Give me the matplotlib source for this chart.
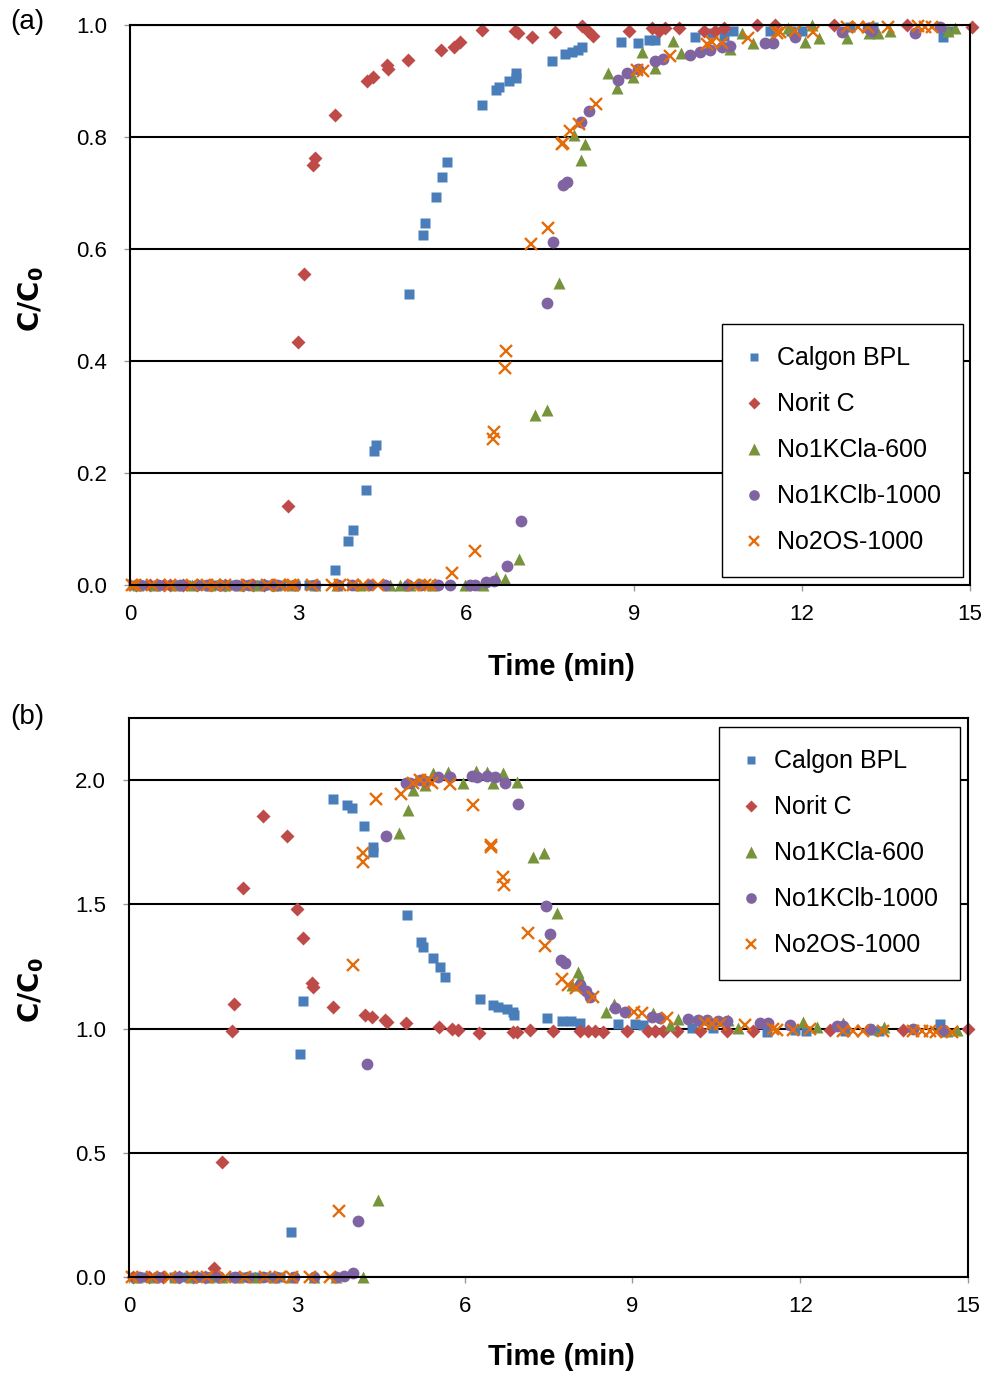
import matplotlib
matplotlib.use("Agg")
import matplotlib.pyplot as plt

plt.rcParams['font.family'] = ['Liberation Sans', 'DejaVu Sans']

labels = ["Calgon BPL", "Norit C", "No1KCla-600", "No1KClb-1000", "No2OS-1000"]
colors = ["#4A7EBB", "#BE4B48", "#77933C", "#8064A2", "#E46C0A"]

# ---- (a) breakthrough curves ----
calgon_a_t = [0.05, 0.25, 0.5, 0.75, 1.0, 1.3, 1.55, 1.8, 2.05, 2.3, 2.45, 2.7, 2.95, 3.2, 3.3,
              3.66, 3.89, 3.98, 4.21, 4.36, 4.39, 4.98, 5.23, 5.27, 5.46, 5.57, 5.66,
              6.29, 6.53, 6.59, 6.77, 6.89, 6.9, 7.53, 7.77, 7.9, 8.0, 8.08,
              8.77, 9.07, 9.27, 9.38, 10.09, 10.4, 10.6, 10.77, 11.43, 11.8, 12.0,
              12.86, 13.27, 14.52, 14.6]
calgon_a_c = [0] * 15 + [0.027, 0.079, 0.098, 0.17, 0.239, 0.25, 0.519, 0.625, 0.646, 0.693, 0.729, 0.756,
              0.857, 0.884, 0.889, 0.90, 0.905, 0.915, 0.936, 0.948, 0.952, 0.955, 0.96,
              0.97, 0.968, 0.973, 0.973, 0.978, 0.985, 0.98, 0.99, 0.99, 0.99, 0.99,
              0.997, 0.997, 0.979, 0.99]

norit_a_t = [0.1, 0.35, 0.6, 0.71, 0.95, 1.2, 1.45, 1.7, 2.02, 2.2, 2.4, 2.56,
             2.82, 3.0, 3.11, 3.27, 3.3, 3.66, 4.23, 4.34, 4.59, 4.61, 4.96,
             5.55, 5.79, 5.89, 6.29, 6.88, 6.93, 7.18, 7.59, 8.07, 8.17, 8.27, 8.91,
             9.32, 9.45, 9.55, 9.8, 10.25, 10.45, 10.6, 11.2, 11.52, 12.57, 13.87, 15.04]
norit_a_c = [0] * 12 + [0.141, 0.434, 0.555, 0.75, 0.762, 0.839, 0.90, 0.907, 0.928, 0.921, 0.938,
             0.955, 0.96, 0.97, 0.991, 0.99, 0.985, 0.979, 0.988, 0.998, 0.99, 0.98, 0.99,
             0.995, 0.99, 0.995, 0.995, 0.99, 0.99, 0.995, 1.0, 1.0, 1.0, 1.0, 0.996]

kcla_a_t = [0.15, 0.45, 0.83, 1.1, 1.43, 1.67, 1.95, 2.26, 2.6, 2.9, 3.3, 3.7, 4.1, 4.64, 4.82,
            5.0, 5.4, 5.98, 6.3,
            6.53, 6.7, 6.95, 7.23, 7.45, 7.66, 7.92, 8.05, 8.12, 8.53, 8.69, 8.99, 9.14, 9.38,
            9.69, 9.84, 10.71, 10.93, 11.13, 11.75, 12.05, 12.18, 12.3, 12.8, 13.2, 13.36,
            13.57, 14.6, 14.73]
kcla_a_c = [0] * 19 + [0.014, 0.011, 0.046, 0.304, 0.313, 0.539, 0.804, 0.759, 0.787, 0.915, 0.887,
            0.907, 0.952, 0.923, 0.972, 0.95, 0.957, 0.985, 0.968, 0.994, 0.97, 1.0, 0.977,
            0.977, 0.985, 0.985, 0.99, 0.99, 0.995]

kclb_a_t = [0.17, 0.5, 0.9, 1.2, 1.38, 1.61, 1.9, 2.12, 2.4, 2.62, 2.95, 3.3, 3.72, 3.96, 4.26,
            4.55, 4.97, 5.2, 5.5, 5.71, 6.07, 6.16,
            6.35, 6.5, 6.73, 6.98, 7.45, 7.55, 7.73, 7.8, 8.05, 8.2, 8.71, 8.87, 9.07, 9.38,
            9.52, 10.0, 10.18, 10.36, 10.57, 10.71, 11.34, 11.48, 11.88, 12.71, 13.18, 13.25,
            14.02, 14.46]
kclb_a_c = [0] * 22 + [0.005, 0.008, 0.034, 0.114, 0.503, 0.612, 0.714, 0.72, 0.827, 0.847, 0.902,
            0.915, 0.921, 0.936, 0.939, 0.946, 0.952, 0.955, 0.96, 0.962, 0.968, 0.968, 0.979,
            0.988, 0.995, 0.99, 0.985, 0.997]

os_a_t = [0.03, 0.09, 0.39, 0.71, 1.1, 1.38, 1.52, 1.7, 2.09, 2.45, 2.68, 2.86, 2.91, 3.25, 3.61,
          3.75, 3.98, 4.16, 4.43, 5.05, 5.27, 5.36,
          5.75, 6.16, 6.48, 6.5, 6.7, 6.71, 7.16, 7.47, 7.72, 7.74, 7.86, 8.02, 8.32, 9.05, 9.16,
          9.64, 10.3, 10.4, 10.57, 11.04, 11.55, 11.6, 11.88, 12.2, 12.8, 13.0, 13.18, 13.54,
          14.07, 14.2, 14.32]
os_a_c = [0] * 22 + [0.021, 0.061, 0.26, 0.273, 0.387, 0.418, 0.609, 0.637, 0.787, 0.79, 0.81, 0.823,
          0.859, 0.92, 0.918, 0.945, 0.966, 0.97, 0.968, 0.977, 0.985, 0.988, 0.99, 0.988,
          0.996, 0.997, 0.996, 0.996, 0.998, 0.996, 0.997]

# ---- (b) CO2 roll-up curves ----
calgon_b_t = [0.1, 0.3, 0.55, 0.8, 1.05, 1.3, 1.55, 1.86, 2.05, 2.29, 2.5, 2.7,
              2.9, 3.06, 3.11, 3.65, 3.9, 3.99, 4.2, 4.36, 4.37, 4.97, 5.22, 5.26, 5.44, 5.56,
              5.65, 6.28, 6.51, 6.6, 6.76, 6.86, 6.88, 7.47, 7.74, 7.9, 8.07, 8.75, 9.05, 9.19,
              10.07, 10.44, 11.4, 11.9, 12.1, 12.8, 13.4, 14.5]
calgon_b_c = [0] * 12 + [0.181, 0.897, 1.11, 1.924, 1.90, 1.887, 1.815, 1.73, 1.71, 1.457, 1.348,
              1.328, 1.284, 1.248, 1.207, 1.119, 1.095, 1.087, 1.08, 1.065, 1.054, 1.042, 1.032,
              1.03, 1.022, 1.018, 1.02, 1.014, 1.002, 1.002, 0.986, 0.994, 0.99, 0.99, 0.992, 1.02]

norit_b_t = [0.08, 0.35, 0.6, 0.9, 1.15, 1.35,
             1.52, 1.66, 1.84, 1.88, 2.04, 2.4, 2.82, 3.0, 3.11, 3.27, 3.29, 3.65, 4.22, 4.34,
             4.58, 4.61, 4.95, 5.54, 5.77, 5.88, 6.26, 6.87, 6.93, 7.17, 7.58, 8.06, 8.2, 8.33,
             8.48, 8.9, 9.28, 9.4, 9.55, 9.8, 10.2, 10.69, 11.16, 12.53, 13.84, 15.0]
norit_b_c = [0] * 6 + [0.036, 0.463, 0.99, 1.099, 1.565, 1.855, 1.775, 1.481, 1.364, 1.183, 1.167,
             1.087, 1.054, 1.046, 1.034, 1.026, 1.022, 1.006, 1.0, 0.994, 0.982, 0.986, 0.988,
             0.994, 0.99, 0.99, 0.992, 0.99, 0.985, 0.99, 0.99, 0.99, 0.99, 0.99, 0.99, 0.99,
             0.99, 0.995, 0.993, 1.0]

kcla_b_t = [0.15, 0.45, 0.83, 1.1, 1.43, 1.67, 1.95, 2.26, 2.6, 2.9, 3.3, 3.7, 4.18,
            4.45, 4.83, 4.99, 5.08, 5.29, 5.44, 5.7, 5.97, 6.2, 6.4, 6.51, 6.69, 6.93, 7.22,
            7.42, 7.65, 7.92, 8.03, 8.06, 8.53, 8.67, 9.37, 9.67, 9.82, 10.71, 10.89, 12.05,
            12.3, 12.77, 13.3, 13.5, 14.62, 14.8]
kcla_b_c = [0] * 13 + [0.31, 1.787, 1.879, 1.96, 1.98, 2.028, 2.032, 1.988, 2.035, 2.032, 1.988,
            2.028, 1.992, 1.69, 1.706, 1.465, 1.175, 1.227, 1.203, 1.066, 1.099, 1.062, 1.014,
            1.038, 1.034, 1.002, 1.026, 1.006, 1.022, 1.0, 1.006, 0.99, 0.994]

kclb_b_t = [0.17, 0.5, 0.9, 1.2, 1.38, 1.61, 1.9, 2.12, 2.4, 2.62, 2.95, 3.3, 3.7,
            3.85, 4.0, 4.09, 4.26, 4.6, 4.95, 5.02, 5.2, 5.29, 5.53, 5.74, 6.13, 6.22, 6.4,
            6.54, 6.72, 6.96, 7.46, 7.53, 7.72, 7.8, 8.06, 8.17, 8.24, 8.69, 8.87, 9.35, 9.49,
            10.0, 10.18, 10.33, 10.53, 10.69, 11.28, 11.43, 11.82, 12.66, 12.77, 13.25, 14.02,
            14.55]
kclb_b_c = [0] * 13 + [0.005, 0.016, 0.225, 0.857, 1.775, 1.988, 1.99, 2.0, 1.995, 2.012, 2.012,
            2.015, 2.012, 2.015, 2.012, 1.99, 1.903, 1.493, 1.38, 1.275, 1.263, 1.175, 1.15,
            1.127, 1.082, 1.066, 1.046, 1.042, 1.04, 1.036, 1.034, 1.03, 1.03, 1.022, 1.022,
            1.014, 1.01, 1.01, 1.0, 1.0, 0.994]

os_b_t = [0.05, 0.41, 0.73, 1.12, 1.39, 1.72, 2.07, 2.43, 2.7, 2.91, 3.24, 3.6,
          3.75, 4.0, 4.18, 4.19, 4.42, 4.86, 5.08, 5.2, 5.35, 5.42, 5.74, 6.15, 6.47, 6.48,
          6.69, 6.7, 7.13, 7.43, 7.74, 7.85, 8.0, 8.3, 9.02, 9.17, 9.62, 10.3, 10.42, 10.57,
          11.01, 11.51, 11.58, 11.87, 12.18, 12.77, 12.95, 13.12, 13.48, 14.02, 14.17, 14.32,
          14.43, 14.71]
os_b_c = [0] * 12 + [0.265, 1.256, 1.706, 1.67, 1.924, 1.944, 1.99, 2.0, 2.0, 1.99, 1.984, 1.9,
          1.738, 1.73, 1.61, 1.577, 1.384, 1.332, 1.2, 1.175, 1.163, 1.127, 1.066, 1.062,
          1.042, 1.022, 1.02, 1.018, 1.014, 1.0, 0.994, 0.994, 1.0, 0.99, 0.99, 0.99, 0.99,
          0.99, 0.99, 0.99, 0.988, 0.986]

# marker shape / size per series
styles = [dict(marker='s', ms=7), dict(marker='D', ms=7), dict(marker='^', ms=9),
          dict(marker='o', ms=8.5), dict(marker='x', ms=8, mew=1.7)]


def draw_panel(ax, series, ylim, yticks, legend_loc, legend_anchor):
    for (t, c), lab, col, st in zip(series, labels, colors, styles):
        if st['marker'] == 'x':
            ax.plot(t, c, ls='none', color=col, label=lab, clip_on=False, **st)
        else:
            ax.plot(t, c, ls='none', color=col, mec='none', label=lab, clip_on=False, **st)

    ax.set_xlim(0, 15)
    ax.set_ylim(*ylim)
    ax.set_xticks([0, 3, 6, 9, 12, 15])
    ax.set_yticks(yticks)
    ax.set_yticklabels(['%.1f' % v for v in yticks])
    ax.yaxis.grid(True, color='black', lw=1.5)
    ax.set_axisbelow(True)
    for sp in ax.spines.values():
        sp.set_color('black')
        sp.set_linewidth(1.5)
    ax.tick_params(axis='both', direction='out', length=4.5, width=1, color='#999999',
                   labelsize=16)
    ax.tick_params(axis='x', pad=9)
    ax.tick_params(axis='y', pad=12)

    leg = ax.legend(loc=legend_loc, bbox_to_anchor=legend_anchor, fontsize=18,
                    frameon=True, fancybox=False, edgecolor='black', borderpad=0.9,
                    labelspacing=0.88, handletextpad=0.5, handlelength=0.8, markerscale=0.9,
                    borderaxespad=0)
    leg.get_frame().set_linewidth(1.0)
    leg.get_frame().set_alpha(1)


fig = plt.figure(figsize=(9.9, 13.8), dpi=100)
ax_a = fig.add_axes([130 / 990, 1 - 585 / 1380, 840 / 990, 560 / 1380])
ax_b = fig.add_axes([129 / 990, 1 - 1277 / 1380, 839 / 990, 559 / 1380])

draw_panel(ax_a,
           [(calgon_a_t, calgon_a_c), (norit_a_t, norit_a_c), (kcla_a_t, kcla_a_c),
            (kclb_a_t, kclb_a_c), (os_a_t, os_a_c)],
           (0, 1.0), [0.0, 0.2, 0.4, 0.6, 0.8, 1.0], 'lower right', (0.9917, 0.0143))

draw_panel(ax_b,
           [(calgon_b_t, calgon_b_c), (norit_b_t, norit_b_c), (kcla_b_t, kcla_b_c),
            (kclb_b_t, kclb_b_c), (os_b_t, os_b_c)],
           (0, 2.25), [0.0, 0.5, 1.0, 1.5, 2.0], 'upper right', (0.9905, 0.984))

for ax, xl, yl in [(ax_a, (0.514, -0.146), (-0.118, 0.511)),
                   (ax_b, (0.515, -0.143), (-0.117, 0.513))]:
    ax.set_xlabel('Time (min)', fontsize=21, fontweight='bold', va='center')
    ax.xaxis.set_label_coords(*xl)
    ax.set_ylabel(r'$\mathbf{C/C_0}$', fontsize=20, va='center')
    ax.yaxis.set_label_coords(*yl)

fig.text(27 / 990, 1 - 22 / 1380, '(a)', fontsize=20, ha='center', va='center')
fig.text(27 / 990, 1 - 717 / 1380, '(b)', fontsize=20, ha='center', va='center')

fig.savefig('out.png', dpi=100)
